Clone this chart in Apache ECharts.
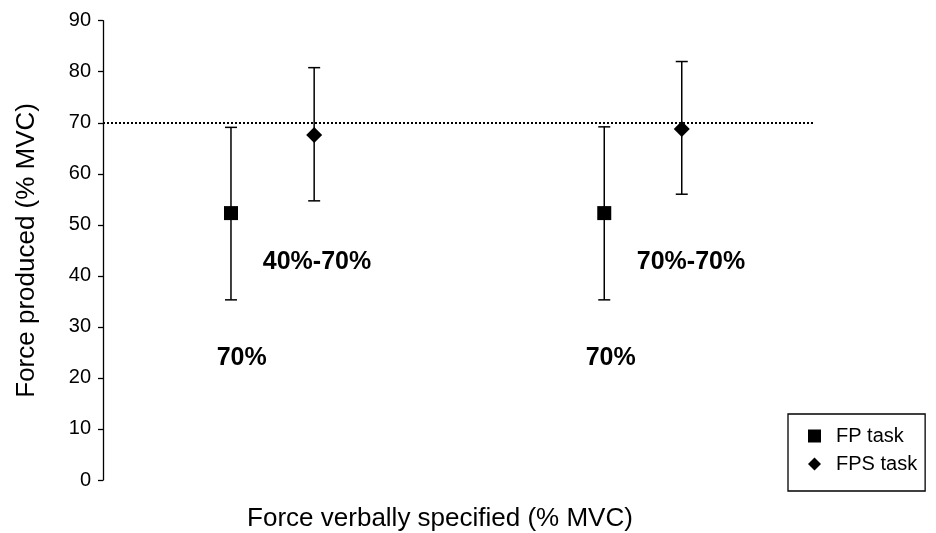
<!DOCTYPE html>
<html>
<head>
<meta charset="utf-8">
<script src="https://cdn.jsdelivr.net/npm/echarts@6/dist/echarts.min.js"></script>
<style>
html,body{margin:0;padding:0;background:#fff;}
#chart{width:936px;height:533px;}
</style>
</head>
<body>
<div id="chart"></div>
<script>
// ---- data ----
var xPositions = { fp: [18.0, 70.5], fps: [29.7, 81.4] };
var fpMean = [52.3, 52.3];
var fpLow  = [35.3, 35.3];
var fpHigh = [69.1, 69.2];
var fpsMean = [67.6, 68.8];
var fpsLow  = [54.7, 56.0];
var fpsHigh = [80.8, 82.0];
var referenceLevel = 70;
var yTicks = { min: 0, max: 90, interval: 10 };
var annotationText = ['70%', '40%-70%', '70%', '70%-70%'];
var annotationX = [19.5, 30.1, 71.4, 82.7];
var annotationY = [23.9, 42.7, 23.9, 42.7];
var seriesNames = ['FP task', 'FPS task'];
var axisTitles = { x: 'Force verbally specified (% MVC)', y: 'Force produced (% MVC)' };

// ---- build ----
var FONT = '"Liberation Sans", Arial, sans-serif';
function pts(xs, ys) { return xs.map(function (x, i) { return [x, ys[i]]; }); }
function errData(xs, lo, hi) { return xs.map(function (x, i) { return [x, lo[i], hi[i]]; }); }

function errRender(params, api) {
  var x = api.value(0);
  var lo = api.coord([x, api.value(1)]);
  var hi = api.coord([x, api.value(2)]);
  var half = 6;
  var style = { stroke: '#000', lineWidth: 1.5 };
  return {
    type: 'group',
    children: [
      { type: 'line', shape: { x1: lo[0], y1: lo[1], x2: hi[0], y2: hi[1] }, style: style },
      { type: 'line', shape: { x1: hi[0] - half, y1: hi[1], x2: hi[0] + half, y2: hi[1] }, style: style },
      { type: 'line', shape: { x1: lo[0] - half, y1: lo[1], x2: lo[0] + half, y2: lo[1] }, style: style }
    ]
  };
}

var annData = annotationText.map(function (t, i) { return { value: [annotationX[i], annotationY[i]], name: t }; });

var chart = echarts.init(document.getElementById('chart'));
chart.setOption({
  animation: false,
  backgroundColor: '#fff',
  textStyle: { fontFamily: FONT, color: '#000' },
  grid: { left: 103, right: 122, top: 20.7, bottom: 53, containLabel: false, outerBoundsMode: 'none' },
  xAxis: {
    type: 'value', min: 0, max: 100,
    axisLine: { show: false }, axisTick: { show: false }, axisLabel: { show: false }, splitLine: { show: false },
    name: axisTitles.x, nameLocation: 'middle', nameGap: 26,
    nameTextStyle: { fontSize: 26, color: '#000', fontFamily: FONT, padding: [0, 37, 0, 0] }
  },
  yAxis: {
    type: 'value', min: yTicks.min, max: yTicks.max, interval: yTicks.interval,
    axisLine: { show: true, lineStyle: { color: '#000', width: 1.3 } },
    axisTick: { show: true, inside: false, length: 5, lineStyle: { color: '#000', width: 1.3 } },
    axisLabel: { fontSize: 20, color: '#000', margin: 12, fontFamily: FONT },
    splitLine: { show: false },
    name: axisTitles.y, nameLocation: 'middle', nameGap: 63, nameRotate: 90,
    nameTextStyle: { fontSize: 26, color: '#000', fontFamily: FONT }
  },
  legend: {
    data: seriesNames,
    orient: 'vertical',
    left: 788, top: 414,
    padding: [12, 8, 17, 20],
    itemWidth: 13, itemHeight: 13, itemGap: 8,
    borderColor: '#000', borderWidth: 1.3, borderRadius: 0,
    textStyle: { fontSize: 20, color: '#000', fontFamily: FONT, padding: [0, 0, 0, 10] }
  },
  series: [
    { type: 'custom', name: 'fpErr', renderItem: errRender, data: errData(xPositions.fp, fpLow, fpHigh), z: 2, silent: true,
      encode: { x: 0, y: [1, 2] } },
    { type: 'custom', name: 'fpsErr', renderItem: errRender, data: errData(xPositions.fps, fpsLow, fpsHigh), z: 2, silent: true,
      encode: { x: 0, y: [1, 2] } },
    { type: 'scatter', name: seriesNames[0], symbol: 'rect', symbolSize: 14,
      itemStyle: { color: '#000', opacity: 1 }, data: pts(xPositions.fp, fpMean), z: 5,
      markLine: {
        silent: true, symbol: 'none', label: { show: false },
        lineStyle: { type: 'dotted', color: '#000', width: 2, opacity: 1 },
        data: [{ yAxis: referenceLevel }]
      }
    },
    { type: 'scatter', name: seriesNames[1], symbol: 'diamond', symbolSize: [16, 16],
      itemStyle: { color: '#000', opacity: 1 }, data: pts(xPositions.fps, fpsMean), z: 5 },
    { type: 'scatter', name: 'annotations', symbolSize: 0, silent: true, data: annData,
      itemStyle: { opacity: 1 },
      label: { show: true, position: 'inside', formatter: function (p) { return p.name; },
        fontSize: 25, fontWeight: 'bold', color: '#000', opacity: 1, fontFamily: FONT } }
  ]
});
</script>
</body>
</html>
